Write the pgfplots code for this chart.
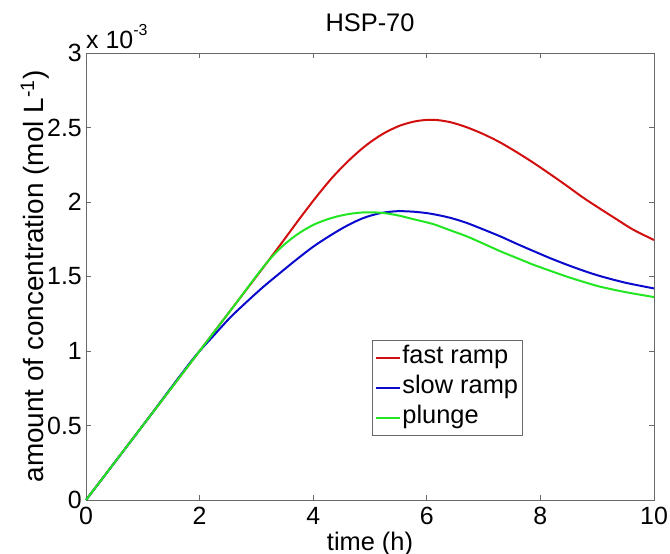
\documentclass[border=0pt]{standalone}
\usepackage{pgfplots}
\pgfplotsset{compat=1.18}
\usepackage{fontspec}
\setmainfont{Liberation Sans}
\definecolor{mred}{RGB}{210,15,15}
\definecolor{mblue}{RGB}{10,10,205}
\definecolor{mgreen}{RGB}{35,230,35}
\definecolor{axgray}{RGB}{105,105,105}
\begin{document}
\begin{tikzpicture}
\useasboundingbox (-86bp,-54bp) rectangle (584bp,500bp);
\begin{axis}[
  at={(0,0)}, anchor=south west,
  scale only axis, width=568bp, height=447bp,
  xmin=0, xmax=10, ymin=0, ymax=3,
  xtick={0,2,4,6,8,10}, xticklabels={0,2,4,6,8,10},
  ytick={0,0.5,1,1.5,2,2.5,3}, yticklabels={0,0.5,1,1.5,2,2.5,3},
  /pgf/number format/assume math mode=true,
  tick align=inside, major tick length=5bp,
  axis line style={axgray, line width=0.8bp},
  tick style={axgray, line width=0.8bp},
  every tick label/.append style={font=\fontsize{25}{28}\selectfont},
  xticklabel style={inner sep=0pt, yshift=-7bp},
  yticklabel style={inner sep=0pt, xshift=-4bp},
  title={HSP-70},
  title style={font=\fontsize{25.5}{28}\selectfont, at={(axis description cs:0.5,1.0537)}, anchor=center},
  xlabel={time (h)},
  xlabel style={font=\fontsize{25.5}{28}\selectfont, at={(axis description cs:0.5,-0.1119)}, anchor=base},
  ylabel={amount of concentration (mol L\textsuperscript{-1})},
  ylabel style={font=\fontsize{28}{30}\selectfont, at={(axis description cs:-0.0757,0.5)}, anchor=base, rotate=0},
  legend style={at={(axis description cs:0.5035,0.143)}, anchor=south west,
    draw=axgray, line width=0.8bp, inner sep=3bp, row sep=1bp,
    font=\fontsize{25.5}{28}\selectfont,
    nodes={inner sep=1bp, text height=19bp, text depth=8bp}},
  legend cell align=left,
  legend image code/.code={\draw[#1] (0bp,0bp) -- (24bp,0bp);},
  clip=false,
]
\addplot[mred, line width=2bp, smooth] coordinates {
(0,0) (1,0.5) (2,1.0) (2.6,1.30) (3.12,1.56) (3.47,1.738) (3.77,1.893) (4.06,2.037)
(4.35,2.17) (4.65,2.287) (4.94,2.383) (5.23,2.458) (5.53,2.513) (5.82,2.543) (6.11,2.552)
(6.41,2.536) (6.70,2.502) (7.0,2.455) (7.29,2.40) (7.58,2.335) (7.87,2.265) (8.16,2.19)
(8.46,2.11) (8.75,2.03) (9.05,1.955) (9.35,1.882) (9.63,1.815) (10,1.745)};
\addlegendentry{fast ramp}
\addplot[mblue, line width=2bp, smooth] coordinates {
(0,0) (1,0.5) (1.86,0.935) (2.24,1.10) (2.54,1.225) (2.83,1.33) (3.12,1.43)
(3.42,1.525) (3.71,1.615) (4.0,1.70) (4.30,1.775) (4.59,1.84) (4.88,1.892)
(5.18,1.925) (5.47,1.938) (5.76,1.935) (6.06,1.922) (6.4,1.895) (6.7,1.86)
(7.0,1.815) (7.29,1.77) (7.58,1.72) (7.87,1.672) (8.16,1.625) (8.46,1.58) (8.75,1.54)
(9.05,1.503) (9.5,1.458) (10,1.42)};
\addlegendentry{slow ramp}
\addplot[mgreen, line width=2bp, smooth] coordinates {
(0,0) (1,0.5) (2,1.0) (2.6,1.30) (3.12,1.563) (3.42,1.69) (3.71,1.78) (4.0,1.846)
(4.30,1.89) (4.59,1.917) (4.88,1.93) (5.18,1.928) (5.47,1.912) (5.76,1.885)
(6.11,1.852) (6.4,1.812) (6.7,1.77) (7.0,1.72) (7.29,1.67) (7.58,1.625)
(7.87,1.58) (8.16,1.54) (8.46,1.50) (8.75,1.465) (9.05,1.432) (9.5,1.395) (10,1.362)};
\addlegendentry{plunge}
\node[anchor=base west, inner sep=0pt, font=\fontsize{25}{28}\selectfont]
  at ([yshift=4bp]rel axis cs:0,1) {x 10\raisebox{13bp}{\fontsize{16}{18}\selectfont -3}};
\end{axis}
\end{tikzpicture}
\end{document}
